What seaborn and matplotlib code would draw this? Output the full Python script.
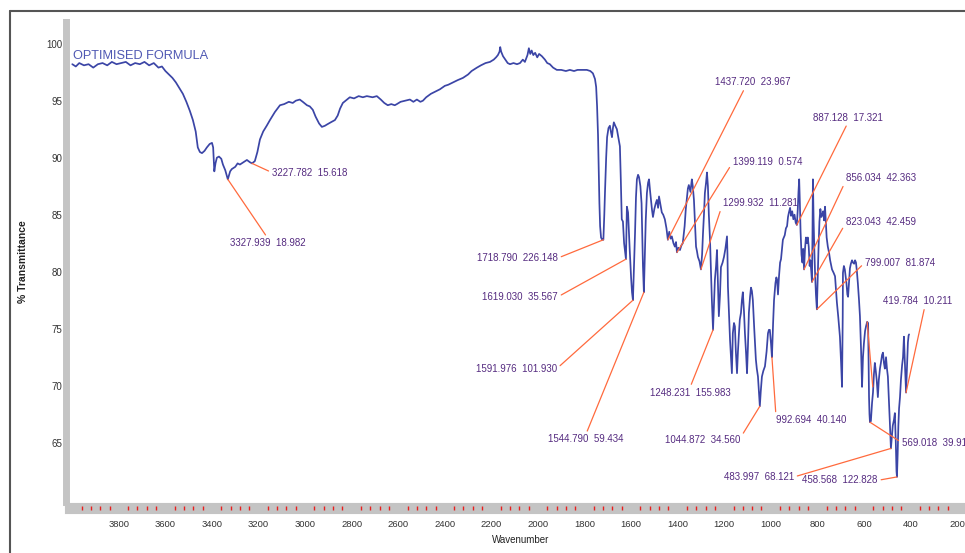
import matplotlib
matplotlib.use('Agg')
import matplotlib.pyplot as plt
from matplotlib.lines import Line2D
from matplotlib.ticker import MultipleLocator
import seaborn as sns

# FTIR spectrum (wavenumber, %T)
wavenumber = [
    4000, 3985, 3970, 3950, 3930, 3910, 3890, 3870, 3850, 3830, 3810, 3790, 3770, 3750,
    3730, 3710, 3690, 3670, 3650, 3630, 3615, 3600, 3585, 3570, 3555, 3540, 3525, 3510,
    3495, 3482, 3470, 3461, 3452, 3443, 3432, 3422, 3410, 3400, 3395, 3390, 3385, 3379,
    3370, 3360, 3353, 3343, 3332, 3322, 3315, 3300, 3290, 3280, 3265, 3250, 3237, 3228,
    3216, 3205, 3194, 3180, 3165, 3151, 3130, 3108, 3090, 3070, 3053, 3040, 3023, 3010,
    2992, 2980, 2967, 2955, 2940, 2928, 2915, 2907, 2890, 2872, 2860, 2850, 2838, 2820,
    2808, 2790, 2770, 2752, 2735, 2710, 2692, 2675, 2660, 2645, 2630, 2615, 2606, 2590,
    2570, 2550, 2535, 2520, 2505, 2494, 2480, 2460, 2440, 2421, 2400, 2385, 2365, 2345,
    2322, 2300, 2285, 2262, 2245, 2225, 2206, 2190, 2180, 2172, 2165, 2162, 2158, 2150,
    2140, 2130, 2120, 2105, 2090, 2077, 2065, 2056, 2045, 2039, 2033, 2027, 2020, 2012,
    2003, 1995, 1983, 1970, 1960, 1949, 1935, 1919, 1900, 1880, 1863, 1845, 1830, 1810,
    1790, 1775, 1764, 1755, 1750, 1746, 1742, 1739, 1736, 1733, 1729, 1724, 1719, 1715,
    1712, 1707, 1703, 1697, 1691, 1686, 1682, 1678, 1674, 1668, 1661, 1655, 1648, 1644,
    1640, 1635, 1630, 1622, 1618, 1613, 1606, 1600, 1596, 1592, 1588, 1583, 1579, 1575,
    1570, 1566, 1560, 1555, 1549, 1545, 1541, 1537, 1532, 1527, 1523, 1518, 1510, 1506,
    1500, 1494, 1489, 1484, 1480, 1474, 1468, 1462, 1455, 1448, 1442, 1436, 1430, 1425,
    1418, 1412, 1407, 1403, 1397, 1390, 1384, 1378, 1370, 1365, 1361, 1356, 1352, 1345,
    1339, 1335, 1330, 1325, 1321, 1317, 1313, 1306, 1300, 1295, 1291, 1287, 1283, 1278,
    1274, 1270, 1266, 1261, 1257, 1253, 1248, 1244, 1240, 1235, 1231, 1227, 1223, 1218,
    1214, 1207, 1201, 1195, 1188, 1186, 1184, 1180, 1175, 1171, 1167, 1163, 1158, 1154,
    1150, 1145, 1141, 1137, 1133, 1128, 1124, 1120, 1115, 1111, 1106, 1102, 1098, 1094,
    1089, 1085, 1081, 1077, 1071, 1064, 1060, 1055, 1051, 1047, 1043, 1038, 1032, 1025,
    1018, 1012, 1008, 1004, 999, 995, 990, 986, 980, 976, 973, 969, 965, 960,
    956, 952, 948, 940, 935, 930, 926, 922, 917, 913, 908, 903, 898, 893,
    888, 884, 881, 878, 875, 872, 868, 864, 861, 857, 853, 849, 845, 841,
    837, 833, 830, 826, 823, 821, 819, 816, 813, 810, 806, 802, 799, 795,
    791, 787, 783, 779, 775, 771, 767, 764, 760, 755, 750, 745, 740, 737,
    730, 724, 720, 716, 710, 703, 698, 694, 691, 690, 686, 682, 678, 675,
    671, 668, 664, 660, 656, 651, 647, 642, 638, 634, 630, 626, 621, 617,
    612, 608, 604, 600, 595, 591, 586, 582, 578, 576, 574, 570, 565, 561,
    557, 553, 549, 545, 540, 536, 531, 527, 522, 518, 514, 510, 505, 501,
    497, 493, 489, 484, 480, 476, 471, 467, 463, 460, 458, 455, 452, 449,
    445, 441, 436, 432, 428, 424, 419, 415, 411, 408, 406,
]
transmittance = [
    98.2, 98.0, 98.3, 98.1, 98.2, 97.9, 98.2, 98.3, 98.1, 98.4, 98.2, 98.3, 98.4, 98.1,
    98.3, 98.2, 98.4, 98.1, 98.3, 97.9, 98.0, 97.6, 97.3, 97.0, 96.6, 96.1, 95.6, 94.9,
    94.1, 93.3, 92.3, 90.9, 90.5, 90.4, 90.6, 90.9, 91.2, 91.3, 90.9, 88.8, 89.5, 90.0,
    90.1, 89.9, 89.4, 88.9, 88.1, 88.8, 89.0, 89.2, 89.5, 89.4, 89.6, 89.8, 89.6, 89.5,
    89.7, 90.5, 91.6, 92.3, 92.8, 93.3, 94.0, 94.6, 94.7, 94.9, 94.8, 95.0, 95.1, 94.9,
    94.6, 94.5, 94.2, 93.6, 93.0, 92.7, 92.8, 92.9, 93.1, 93.3, 93.7, 94.3, 94.8, 95.1,
    95.3, 95.2, 95.4, 95.3, 95.4, 95.3, 95.4, 95.1, 94.8, 94.6, 94.7, 94.6, 94.7, 94.9,
    95.0, 95.1, 94.9, 95.1, 94.9, 95.0, 95.3, 95.6, 95.8, 96.0, 96.3, 96.4, 96.6, 96.8,
    97.0, 97.3, 97.6, 97.9, 98.1, 98.3, 98.4, 98.6, 98.8, 99.0, 99.3, 99.7, 99.3, 98.9,
    98.6, 98.3, 98.2, 98.3, 98.2, 98.3, 98.6, 98.4, 99.0, 99.6, 99.1, 99.4, 99.0, 99.2,
    98.8, 99.1, 98.9, 98.6, 98.3, 98.2, 97.9, 97.7, 97.7, 97.6, 97.7, 97.6, 97.7, 97.7,
    97.7, 97.6, 97.4, 96.9, 96.2, 94.5, 92.0, 89.0, 86.0, 84.0, 83.0, 82.8, 82.8, 85.0,
    87.0, 90.0, 91.8, 92.6, 92.8, 92.2, 91.8, 92.6, 93.1, 92.8, 92.5, 91.8, 91.0, 88.0,
    84.6, 84.4, 82.5, 81.1, 85.7, 85.2, 82.0, 79.5, 78.2, 77.5, 80.0, 83.4, 86.5, 88.1,
    88.5, 88.3, 87.5, 86.0, 80.5, 78.2, 81.5, 84.5, 86.9, 87.8, 88.1, 87.0, 85.4, 84.8,
    85.5, 86.0, 86.3, 85.6, 86.6, 85.9, 85.2, 85.0, 84.6, 83.8, 82.8, 83.5, 82.9, 83.1,
    82.5, 82.2, 82.6, 81.7, 82.1, 81.9, 82.3, 82.5, 84.0, 85.5, 86.3, 87.3, 87.6, 87.0,
    88.1, 87.5, 86.3, 84.0, 82.2, 81.8, 81.3, 80.9, 80.2, 81.5, 83.4, 85.0, 86.9, 87.8,
    88.7, 87.5, 85.0, 82.8, 80.0, 77.5, 74.9, 77.0, 79.3, 80.5, 81.9, 79.0, 76.1, 78.0,
    80.4, 80.8, 81.3, 82.0, 83.1, 81.5, 78.7, 76.5, 74.0, 72.5, 71.1, 74.6, 75.5, 75.2,
    73.0, 71.1, 73.0, 74.5, 75.8, 76.4, 77.5, 78.2, 76.5, 74.6, 72.8, 71.1, 73.5, 76.4,
    77.8, 78.6, 78.3, 77.5, 75.0, 72.3, 71.5, 70.8, 69.5, 68.2, 69.5, 70.8, 71.3, 71.7,
    73.0, 74.6, 74.9, 74.9, 73.7, 72.5, 75.5, 77.5, 79.0, 79.5, 79.3, 78.0, 79.5, 80.8,
    81.1, 82.0, 82.8, 83.2, 83.8, 84.0, 84.8, 85.2, 85.6, 84.9, 85.3, 84.6, 85.0, 84.3,
    84.1, 85.5, 87.0, 88.1, 86.0, 83.5, 81.5, 80.8, 82.0, 80.2, 82.0, 83.0, 82.5, 83.0,
    82.2, 80.5, 81.0, 80.0, 79.1, 83.0, 88.1, 84.5, 82.0, 80.0, 78.0, 76.7, 79.0, 82.0,
    84.4, 85.5, 84.8, 85.0, 85.3, 84.5, 85.7, 84.5, 83.0, 82.2, 81.7, 81.0, 80.5, 80.2,
    79.9, 79.6, 78.5, 77.3, 76.0, 74.3, 72.0, 69.9, 76.0, 79.9, 80.5, 80.2, 79.5, 79.0,
    78.0, 77.8, 79.0, 80.3, 80.7, 81.0, 80.8, 80.7, 81.0, 80.8, 80.0, 79.0, 77.5, 76.1,
    73.0, 69.9, 72.5, 73.7, 74.8, 75.2, 75.6, 75.5, 69.0, 67.5, 66.8, 66.9, 68.5, 69.4,
    71.0, 72.0, 71.3, 70.5, 69.0, 70.5, 71.5, 72.0, 72.7, 72.9, 72.0, 71.5, 72.5, 71.5,
    70.8, 69.0, 67.0, 64.5, 65.5, 66.5, 67.0, 67.6, 65.0, 62.5, 62.0, 64.0, 66.5, 68.0,
    69.0, 70.5, 71.8, 72.5, 74.3, 72.0, 69.4, 71.5, 73.8, 74.4, 74.5,
]

# peak labels: text, peak position on the curve, text position, alignment, leader anchor
peak_labels = [
    '3327.939  18.982', '3227.782  15.618', '1718.790  226.148', '1619.030  35.567',
    '1591.976  101.930', '1544.790  59.434', '1437.720  23.967', '1399.119  0.574',
    '1299.932  11.281', '1248.231  155.983', '1044.872  34.560', '992.694  40.140',
    '887.128  17.321', '856.034  42.363', '823.043  42.459', '799.007  81.874',
    '569.018  39.913', '483.997  68.121', '458.568  122.828', '419.784  10.211', '',
]
peak_wn = [3332, 3228, 1719, 1622, 1592, 1545, 1442, 1403, 1300, 1248, 1047, 995,
           888, 857, 823, 802, 574, 484, 458, 419, 586]
peak_t = [88.1, 89.5, 82.8, 81.1, 77.5, 78.2, 82.8, 81.7, 80.2, 74.9, 68.2, 72.5,
          84.1, 80.2, 79.1, 76.7, 66.8, 64.5, 62.0, 69.4, 75.6]
label_x = [3323, 3143, 1914, 1914, 1919, 1794, 1240, 1163, 1206, 1347, 1132, 978,
           669, 677, 677, 596, 437, 900, 540, 368, 562]
label_y = [82.5, 88.7, 81.2, 77.8, 71.5, 65.3, 96.6, 89.6, 86.0, 69.4, 65.2, 67.0,
           93.5, 88.2, 84.4, 80.8, 65.0, 62.0, 61.7, 77.4, 69.9]
label_ha = ['left', 'left', 'right', 'right', 'right', 'center', 'left', 'left',
            'left', 'center', 'right', 'left', 'center', 'left', 'left', 'left',
            'left', 'right', 'right', 'center', 'left']
label_rel = [(0.5, 1), (0, 0.5), (1, 0.5), (1, 0.5), (1, 0.5), (0.5, 1), (0.4, 0),
             (0, 0.5), (0, 0.5), (0.5, 1), (1, 0.7), (0, 1), (0.5, 0), (0, 0.3),
             (0, 0.4), (0, 0.5), (0, 0.5), (1, 0.5), (1, 0.5), (0.6, 0), (0, 0.5)]

y_ticks = [60, 65, 70, 75, 80, 85, 90, 95, 100]
y_ticklabels = ['', '65', '70', '75', '80', '85', '90', '95', '100']
x_ticks = list(range(4000, -1, -200))
x_ticklabels = ['' if v == 4000 else str(v) for v in x_ticks]

sns.set_style('white')
plt.rcParams['font.family'] = ['Liberation Sans', 'DejaVu Sans']

fig = plt.figure(figsize=(9.65, 5.53), dpi=100)
ax = fig.add_axes([0.0725, 0.0922, 0.9675, 0.868])

sns.lineplot(x=wavenumber, y=transmittance, ax=ax, color='#3b45a6',
             linewidth=1.25, estimator=None, sort=False)

for lab, wn, t, tx, ty, ha, rel in zip(peak_labels, peak_wn, peak_t, label_x,
                                       label_y, label_ha, label_rel):
    ax.annotate(lab, xy=(wn, t), xytext=(tx, ty), textcoords='data',
                ha=ha, va='center', fontsize=7, color='#552b80',
                arrowprops=dict(arrowstyle='-', color='#ff6a3d', lw=0.9,
                                shrinkA=0, shrinkB=0, relpos=rel),
                annotation_clip=False)

ax.text(0.003, 0.93, 'OPTIMISED FORMULA', transform=ax.transAxes,
        ha='left', va='center', fontsize=9.2, color='#4f58b3')

ax.set_xlim(4010, 0)
ax.set_ylim(59.8, 101.9)
ax.set_xticks(x_ticks)
ax.set_xticklabels(x_ticklabels)
ax.xaxis.set_minor_locator(MultipleLocator(40))
ax.set_yticks(y_ticks)
ax.set_yticklabels(y_ticklabels)

# grey bar axes with red ticks
for side in ['top', 'right']:
    ax.spines[side].set_visible(False)
ax.spines['left'].set_position(('outward', 2.5))
ax.spines['left'].set_linewidth(5)
ax.spines['bottom'].set_position(('outward', 4))
ax.spines['bottom'].set_linewidth(8)
for side in ['left', 'bottom']:
    ax.spines[side].set_color('#c4c4c4')
    ax.spines[side].set_zorder(0.5)

ax.tick_params(axis='y', which='major', direction='inout', length=3.6, width=1.2,
               color='#e8201e', labelsize=7, labelcolor='#333333', pad=1)
ax.tick_params(axis='x', which='major', direction='inout', length=4.3, width=1.0,
               color='#e8201e', labelsize=6.8, labelcolor='#333333', pad=6.5)
ax.tick_params(axis='x', which='minor', direction='inout', length=2.2, width=1.0,
               color='#e8201e', bottom=True)

ax.set_xlabel('Wavenumber', fontsize=7, color='#222222')
ax.xaxis.set_label_coords(0.483, -0.068)
ax.set_ylabel('% Transmittance', fontsize=7.5, fontweight='bold', color='#222222')
ax.yaxis.set_label_coords(-0.045, 0.5)

# frame of the cropped screenshot
fig.add_artist(Line2D([0.0104, 0.0104], [0, 0.98], color='#555555', lw=1.5,
                      transform=fig.transFigure))
fig.add_artist(Line2D([0.0104, 1], [0.98, 0.98], color='#555555', lw=1.5,
                      transform=fig.transFigure))

plt.savefig('out.png', dpi=100)
